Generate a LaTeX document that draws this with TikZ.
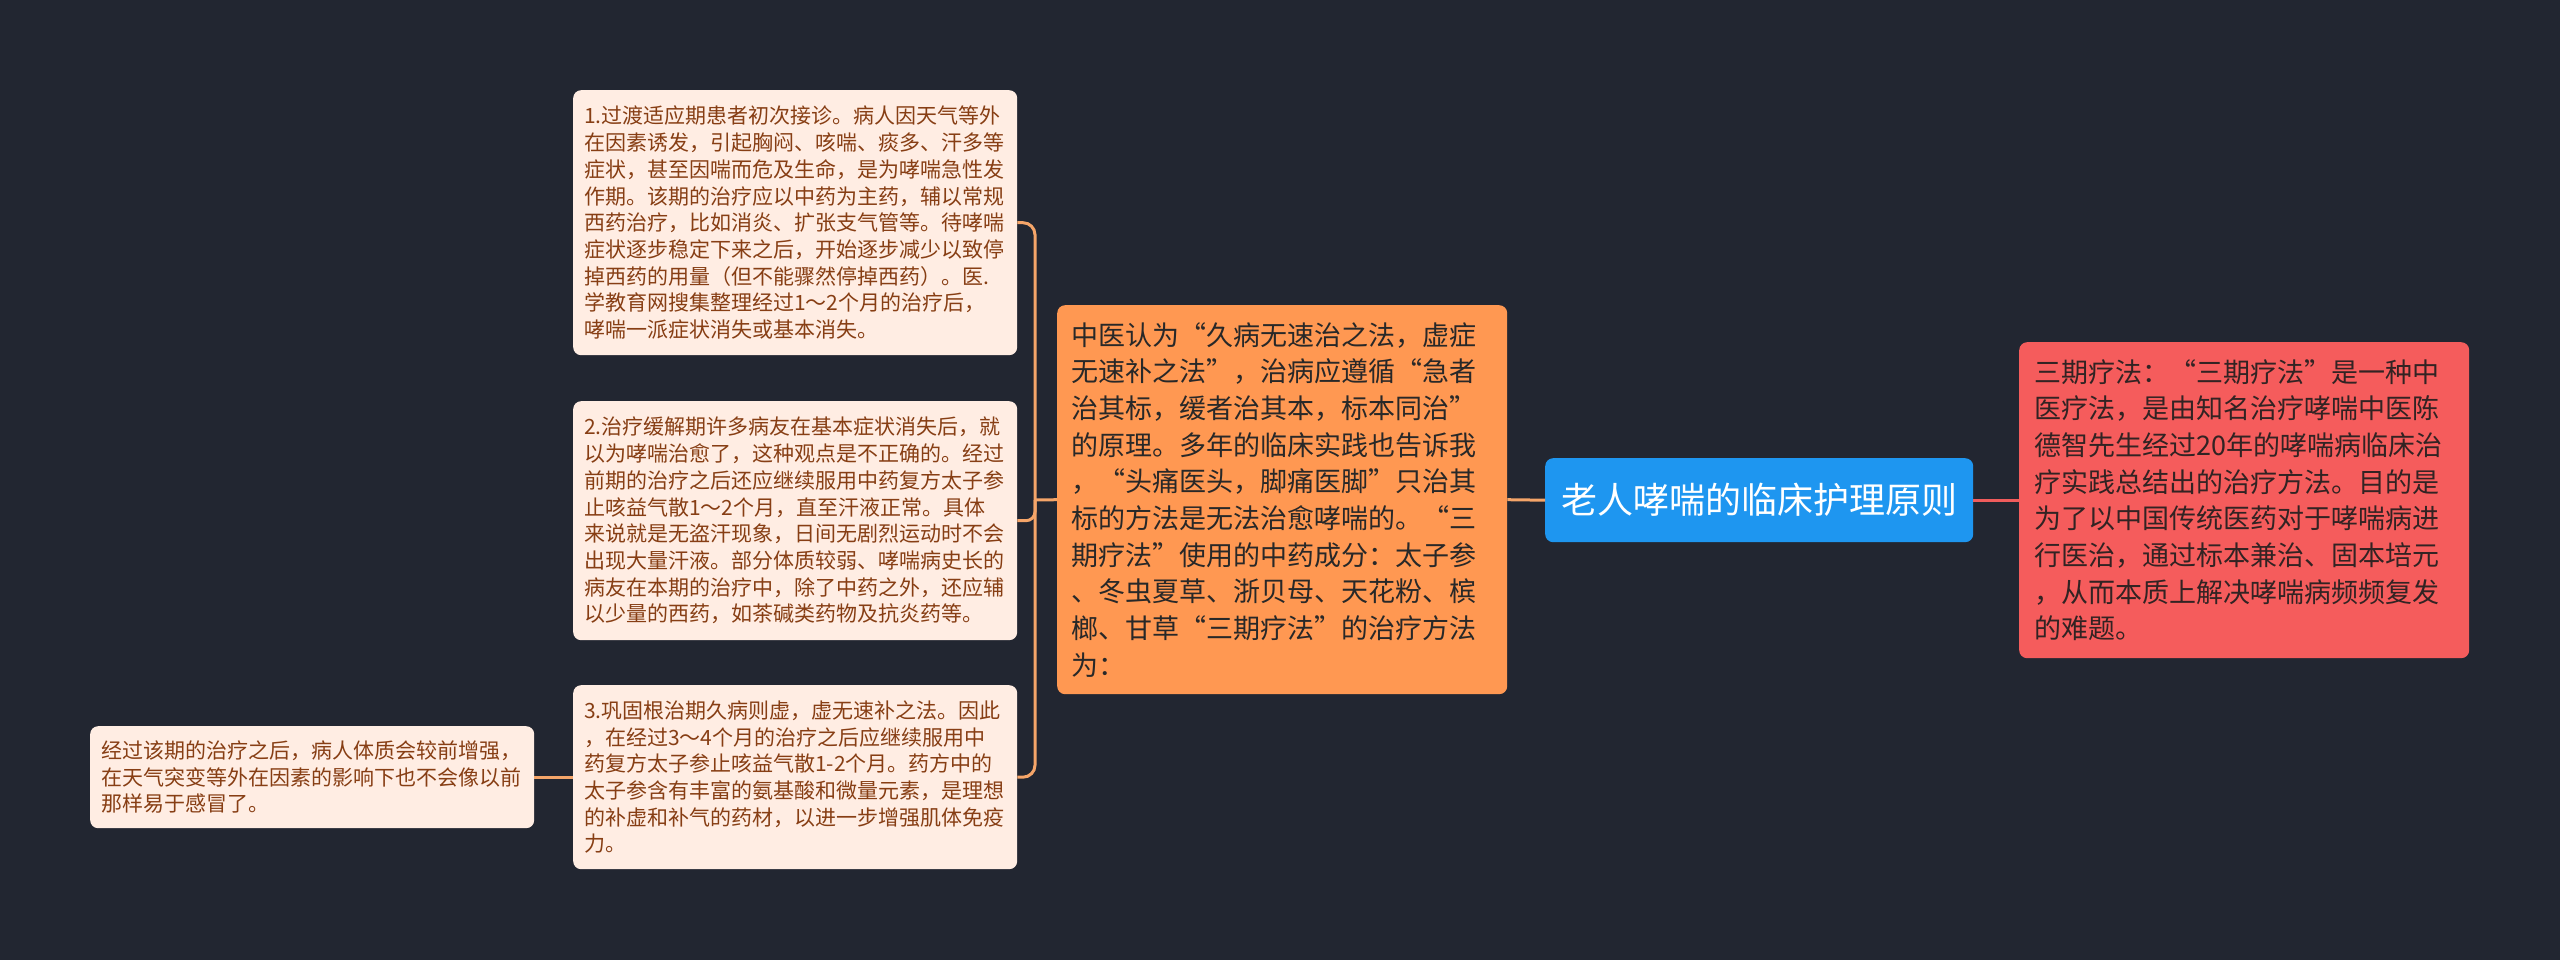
\documentclass[tikz,border=0pt]{standalone}
\usepackage{fontspec}
\setmainfont{Noto Sans CJK SC}
\definecolor{bgc}{RGB}{34,38,49}
\definecolor{leaffill}{RGB}{255,237,227}
\definecolor{leaftext}{RGB}{135,62,20}
\definecolor{orfill}{RGB}{255,152,82}
\definecolor{ortext}{RGB}{40,40,40}
\definecolor{bluefill}{RGB}{30,150,240}
\definecolor{redfill}{RGB}{245,92,92}
\definecolor{redtext}{RGB}{50,35,35}
\definecolor{lconnc}{RGB}{245,165,105}
\definecolor{rconnc}{RGB}{240,92,92}
\begin{document}
\begin{tikzpicture}[x=1pt,y=-1pt,
  leaf/.style={fill=leaffill, text=leaftext, rounded corners=8pt, anchor=north west, align=left, inner xsep=11pt, inner ysep=0pt, font=\fontsize{21}{26.7}\selectfont},
  midbox/.style={fill=orfill, text=ortext, rounded corners=8pt, anchor=north west, align=left, inner xsep=14pt, inner ysep=0pt, font=\fontsize{27}{36.7}\selectfont},
  rightbox/.style={fill=redfill, text=redtext, rounded corners=8pt, anchor=north west, align=left, inner xsep=15pt, inner ysep=0pt, font=\fontsize{27}{36.7}\selectfont},
  rootbox/.style={fill=bluefill, text=white, rounded corners=8pt, anchor=north west, align=center, inner sep=0pt, font=\fontsize{36}{42}\selectfont},
  lconn/.style={draw=lconnc, line width=3pt},
  rconn/.style={draw=rconnc, line width=3pt}
]
\fill[bgc] (0,0) rectangle (2560,960);
\useasboundingbox (0,0) rectangle (2560,960);

\node[leaf, text width=422pt, minimum height=265pt] (b1) at (573,90) {1.过渡适应期患者初次接诊。病人因天气等外\\
在因素诱发，引起胸闷、咳喘、痰多、汗多等\\
症状，甚至因喘而危及生命，是为哮喘急性发\\
作期。该期的治疗应以中药为主药，辅以常规\\
西药治疗，比如消炎、扩张支气管等。待哮喘\\
症状逐步稳定下来之后，开始逐步减少以致停\\
掉西药的用量（但不能骤然停掉西药）。医.\\
学教育网搜集整理经过1～2个月的治疗后，\\
哮喘一派症状消失或基本消失。};

\node[leaf, text width=422pt, minimum height=239pt] (b2) at (573,401) {2.治疗缓解期许多病友在基本症状消失后，就\\
以为哮喘治愈了，这种观点是不正确的。经过\\
前期的治疗之后还应继续服用中药复方太子参\\
止咳益气散1～2个月，直至汗液正常。具体\\
来说就是无盗汗现象，日间无剧烈运动时不会\\
出现大量汗液。部分体质较弱、哮喘病史长的\\
病友在本期的治疗中，除了中药之外，还应辅\\
以少量的西药，如茶碱类药物及抗炎药等。};

\node[leaf, text width=422pt, minimum height=184pt] (b3) at (573,685) {3.巩固根治期久病则虚，虚无速补之法。因此\\
，在经过3～4个月的治疗之后应继续服用中\\
药复方太子参止咳益气散1-2个月。药方中的\\
太子参含有丰富的氨基酸和微量元素，是理想\\
的补虚和补气的药材，以进一步增强肌体免疫\\
力。};

\node[leaf, text width=422pt, minimum height=102pt] (b4) at (90,726) {经过该期的治疗之后，病人体质会较前增强，\\
在天气突变等外在因素的影响下也不会像以前\\
那样易于感冒了。};

\node[midbox, text width=422pt, minimum height=389pt] (ob) at (1057,305) {中医认为“久病无速治之法，虚症\\
无速补之法”，治病应遵循“急者\\
治其标，缓者治其本，标本同治”\\
的原理。多年的临床实践也告诉我\\
，“头痛医头，脚痛医脚”只治其\\
标的方法是无法治愈哮喘的。“三\\
期疗法”使用的中药成分：太子参\\
、冬虫夏草、浙贝母、天花粉、槟\\
榔、甘草“三期疗法”的治疗方法\\
为：};

\node[rootbox, minimum width=428pt, minimum height=84pt] (root) at (1545,458) {老人哮喘的临床护理原则};

\node[rightbox, text width=420pt, minimum height=316pt] (rb) at (2019,342) {三期疗法：“三期疗法”是一种中\\
医疗法，是由知名治疗哮喘中医陈\\
德智先生经过20年的哮喘病临床治\\
疗实践总结出的治疗方法。目的是\\
为了以中国传统医药对于哮喘病进\\
行医治，通过标本兼治、固本培元\\
，从而本质上解决哮喘病频频复发\\
的难题。};

\coordinate (j) at (1035,500);
\draw[lconn] (root.west) -- (ob.east);
\draw[rconn] (root.east) -- (rb.west);
\draw[lconn] (ob.west) -- (j);
\draw[lconn, rounded corners=12pt] (j) |- (b1.east);
\draw[lconn, rounded corners=9pt] (j) |- (b2.east);
\draw[lconn, rounded corners=12pt] (j) |- (b3.east);
\draw[lconn] (b3.west) -- (b4.east);
\end{tikzpicture}
\end{document}
